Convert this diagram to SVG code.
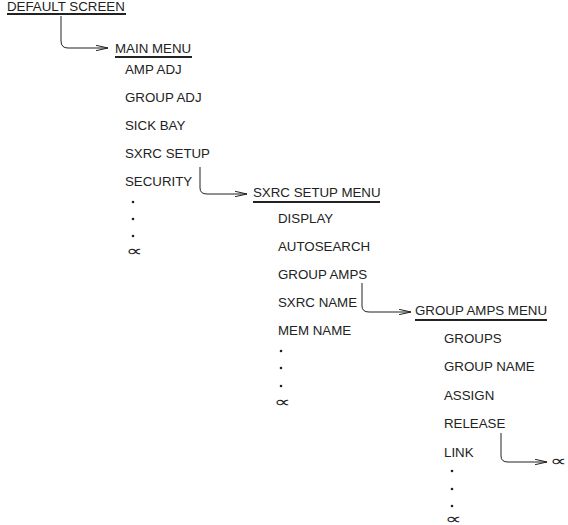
<svg xmlns="http://www.w3.org/2000/svg" width="568" height="525" viewBox="0 0 568 525">
<defs>
<style>
text{font-family:"Liberation Sans",Arial,sans-serif;font-size:13.3px;fill:#222}
.sym{font-family:"DejaVu Sans",sans-serif;font-size:15px;font-weight:200}
.ul{stroke:#222;stroke-width:1.8}
.conn{fill:none;stroke:#222;stroke-width:1;marker-end:url(#arr)}
.dot{fill:#222}
</style>
<marker id="arr" viewBox="0 0 12 6" refX="12" refY="3" markerWidth="12" markerHeight="6" markerUnits="userSpaceOnUse" orient="auto">
<path d="M0,0.3 L12,3 L0,5.7" fill="none" stroke="#222" stroke-width="1"/>
</marker>
</defs>
<g id="connectors">
<path class="conn" d="M61,16 V41 Q61,48 68,48 H108"/>
<path class="conn" d="M200,167 V188 Q200,194 207,194 H247"/>
<path class="conn" d="M362,283 V306 Q362,312 369,312 H411"/>
<path class="conn" d="M501,433 V456 Q501,462 508,462 H547"/>
</g>
<g id="default-screen">
<text x="7" y="11">DEFAULT SCREEN</text>
<line class="ul" x1="7" y1="14" x2="126" y2="14"/>
</g>
<g id="main-menu">
<text x="115" y="53">MAIN MENU</text>
<line class="ul" x1="115" y1="57" x2="192" y2="57"/>
<text x="125" y="74">AMP ADJ</text>
<text x="125" y="102">GROUP ADJ</text>
<text x="125" y="130">SICK BAY</text>
<text x="125" y="158">SXRC SETUP</text>
<text x="125" y="186">SECURITY</text>
<circle class="dot" cx="133" cy="202" r="1.3"/>
<circle class="dot" cx="133" cy="219" r="1.3"/>
<circle class="dot" cx="133" cy="236" r="1.3"/>
<text class="sym" x="126" y="256" textLength="17" lengthAdjust="spacingAndGlyphs">∝</text>
</g>
<g id="sxrc-setup-menu">
<text x="253" y="197">SXRC SETUP MENU</text>
<line class="ul" x1="253" y1="202" x2="380" y2="202"/>
<text x="278" y="223">DISPLAY</text>
<text x="278" y="251">AUTOSEARCH</text>
<text x="278" y="279">GROUP AMPS</text>
<text x="278" y="307">SXRC NAME</text>
<text x="278" y="335">MEM NAME</text>
<circle class="dot" cx="281" cy="351" r="1.3"/>
<circle class="dot" cx="281" cy="368" r="1.3"/>
<circle class="dot" cx="281" cy="386" r="1.3"/>
<text class="sym" x="274" y="407" textLength="17" lengthAdjust="spacingAndGlyphs">∝</text>
</g>
<g id="group-amps-menu">
<text x="415" y="315">GROUP AMPS MENU</text>
<line class="ul" x1="415" y1="320" x2="547" y2="320"/>
<text x="444" y="343">GROUPS</text>
<text x="444" y="371">GROUP NAME</text>
<text x="444" y="400">ASSIGN</text>
<text x="444" y="428">RELEASE</text>
<text x="444" y="457">LINK</text>
<circle class="dot" cx="452" cy="471" r="1.3"/>
<circle class="dot" cx="452" cy="489" r="1.3"/>
<circle class="dot" cx="452" cy="506" r="1.3"/>
<text class="sym" x="445" y="524" textLength="17" lengthAdjust="spacingAndGlyphs">∝</text>
</g>
<g id="link-target">
<text class="sym" x="550" y="466" textLength="17" lengthAdjust="spacingAndGlyphs">∝</text>
</g>
</svg>
